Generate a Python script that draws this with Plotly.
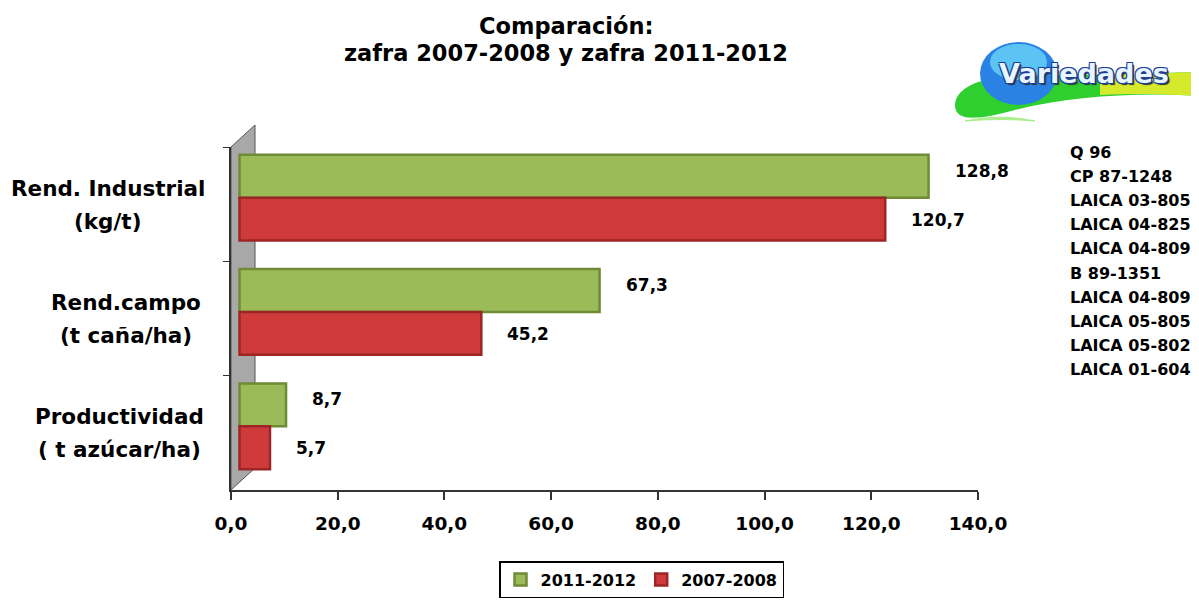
import plotly.graph_objects as go

# ---------------- data ----------------
categories = ["Rend. Industrial<br>(kg/t)", "Rend.campo<br>(t caña/ha)", "Productividad<br>( t azúcar/ha)"]
series_names = ["2011-2012", "2007-2008"]
values_2011_2012 = [128.8, 67.3, 8.7]
values_2007_2008 = [120.7, 45.2, 5.7]
x_ticks = [0, 20, 40, 60, 80, 100, 120, 140]
varieties = ["Q 96", "CP 87-1248", "LAICA 03-805", "LAICA 04-825", "LAICA 04-809",
             "B 89-1351", "LAICA 04-809", "LAICA 05-805", "LAICA 05-802", "LAICA 01-604"]
title_lines = ["Comparación:", "zafra 2007-2008 y zafra 2011-2012"]
logo_text = "Variedades"

# ---------------- layout geometry (reference-page pixel coords) ----------------
BODY = 8                      # default body margin of the html page
W, H = 1199 - 2 * BODY, 607 - 2 * BODY
L, R, T, B = 231, 978, 147, 490
PW, PH = R - L, B - T

def px(x):
    return (x - L) / PW

def py(y):
    return (B - y) / PH

FONT = "DejaVu Sans"
GREEN, GREEN_D = "#9bbb59", "#6f8b35"
RED, RED_D = "#cf3b3b", "#9c2626"

fig = go.Figure()

# invisible trace that anchors the main (tick) axes
fig.add_trace(go.Scatter(x=[0] * len(categories), y=categories, mode="none",
                         showlegend=False, hoverinfo="skip", xaxis="x", yaxis="y"))

fig.add_trace(go.Bar(name=series_names[0], x=values_2011_2012, y=categories, orientation="h",
                     marker=dict(color=GREEN, line=dict(color=GREEN_D, width=2.5)),
                     xaxis="x2", yaxis="y2", hoverinfo="skip"))
fig.add_trace(go.Bar(name=series_names[1], x=values_2007_2008, y=categories, orientation="h",
                     marker=dict(color=RED, line=dict(color=RED_D, width=2.5)),
                     xaxis="x2", yaxis="y2", hoverinfo="skip"))

annotations = []
# data labels
for vals, ys in ((values_2011_2012, 27), (values_2007_2008, -22)):
    for c, v in zip(categories, vals):
        annotations.append(dict(x=v, y=c, xref="x2", yref="y2", xanchor="left", yanchor="middle",
                                xshift=24, yshift=ys, showarrow=False,
                                text=f"{v:.1f}".replace(".", ","),
                                font=dict(family=FONT, size=17, color="black", weight="bold")))
# category labels (two centred lines, block right-aligned near the axis)
label_centres = [107.5, 126, 119]
for c, xc in zip(categories, label_centres):
    lines = c.split("<br>")
    for i, ln in enumerate(lines):
        annotations.append(dict(x=px(xc), y=c, xref="paper", yref="y", xanchor="center",
                                yanchor="middle", yshift=16 - 33 * i, showarrow=False, text=ln,
                                font=dict(family=FONT, size=21.5, color="black", weight="bold")))
# title
for i, t in enumerate(title_lines):
    annotations.append(dict(x=px(566), y=py(26 + 27 * i), xref="paper", yref="paper",
                            xanchor="center", yanchor="middle", showarrow=False, text=t,
                            font=dict(family=FONT, size=22.5, color="black", weight="bold")))
# varieties list
for i, t in enumerate(varieties):
    annotations.append(dict(x=px(1068), y=py(152 + 24.2 * i), xref="paper", yref="paper",
                            xanchor="left", yanchor="middle", showarrow=False, text=t,
                            font=dict(family=FONT, size=16, color="black", weight="bold")))
# logo text
annotations.append(dict(x=px(1084), y=py(74), xref="paper", yref="paper", xanchor="center",
                        yanchor="middle", showarrow=False, text=logo_text,
                        font=dict(family=FONT, size=27, color="#e6f5ff", weight="bold",
                                  shadow="1px 1px 0 #1d3f9a, -1px -1px 0 #1d3f9a, 1px -1px 0 #1d3f9a, -1px 1px 0 #1d3f9a, 2px 2px 1px #333")))

def path(points):
    return "M " + " L ".join(f"{px(a):.5f},{py(b):.5f}" for a, b in points) + " Z"

def cpath(s):
    out = []
    for tok in s.split():
        if "," in tok:
            a, b = tok.split(",")
            out.append(f"{px(float(a)):.5f},{py(float(b)):.5f}")
        else:
            out.append(tok)
    return " ".join(out)

shapes = []
# 3D side wall
shapes.append(dict(type="path", xref="paper", yref="paper", layer="below",
                   path=path([(231, 490), (231, 147), (255, 125), (255, 468)]),
                   fillcolor="#a8a8a8", line=dict(color="#555555", width=1)))
# logo swoosh
shapes.append(dict(type="path", xref="paper", yref="paper", layer="above",
                   path=cpath("M 955,106 C 955,86 985,76 1020,76 C 1070,76 1120,74 1199,72 L 1199,96 C 1140,92 1070,96 1015,110 C 985,118 956,124 955,106 Z"),
                   fillcolor="#2fcf2f", line=dict(width=0)))
shapes.append(dict(type="path", xref="paper", yref="paper", layer="above",
                   path=cpath("M 1100,75 C 1140,74 1170,73 1199,72 L 1199,96 C 1170,94 1135,93 1100,95 Z"),
                   fillcolor="#d6ea2c", line=dict(width=0)))
shapes.append(dict(type="path", xref="paper", yref="paper", layer="above",
                   path=cpath("M 965,121 C 990,116 1010,116 1035,121 C 1010,119 990,119 965,121 Z"),
                   fillcolor="#a8ef8a", line=dict(color="#a8ef8a", width=1)))
shapes.append(dict(type="circle", xref="paper", yref="paper", layer="above",
                   x0=px(980), x1=px(1057), y0=py(105), y1=py(42),
                   fillcolor="#2a82e4", line=dict(width=0)))
shapes.append(dict(type="circle", xref="paper", yref="paper", layer="above",
                   x0=px(990), x1=px(1047), y0=py(80), y1=py(44),
                   fillcolor="#5cc3f5", line=dict(width=0)))

fig.update_layout(
    width=W, height=H,
    margin=dict(l=L - BODY, r=(1199 - BODY) - R, t=T - BODY, b=(607 - BODY) - B, pad=0),
    paper_bgcolor="white", plot_bgcolor="white",
    separators=",.",
    barmode="group", bargap=0.25, bargroupgap=0,
    hovermode=False,
    font=dict(family=FONT, color="black"),
    xaxis=dict(range=[0, 140], tickvals=x_ticks, tickformat=".1f", showgrid=False, zeroline=False,
               showline=True, linecolor="#333333", linewidth=2, ticks="outside", ticklen=8,
               tickcolor="#333333", tickwidth=1.5, ticklabelstandoff=8,
               tickfont=dict(family=FONT, size=18.5, color="black", weight="bold")),
    yaxis=dict(type="category", categoryarray=categories, range=[2.5, -0.5], showgrid=False,
               zeroline=False, showline=True, linecolor="#333333", linewidth=1.5,
               ticks="outside", tickson="boundaries", ticklen=6, tickcolor="#333333",
               showticklabels=False),
    xaxis2=dict(overlaying="x", range=[-1.589, 138.04], visible=False),
    yaxis2=dict(overlaying="y", type="category", categoryarray=categories,
                range=[2.557, -0.443], visible=False),
    legend=dict(orientation="h", xref="container", yref="container",
                x=(641.5 - BODY) / W, xanchor="center", y=1.0 / H, yanchor="bottom",
                bordercolor="black", borderwidth=1.5, bgcolor="white",
                font=dict(family=FONT, size=16, color="black", weight="bold"),
                traceorder="normal", itemwidth=30),
    annotations=annotations,
    shapes=shapes,
)

fig.write_html("out.html")
